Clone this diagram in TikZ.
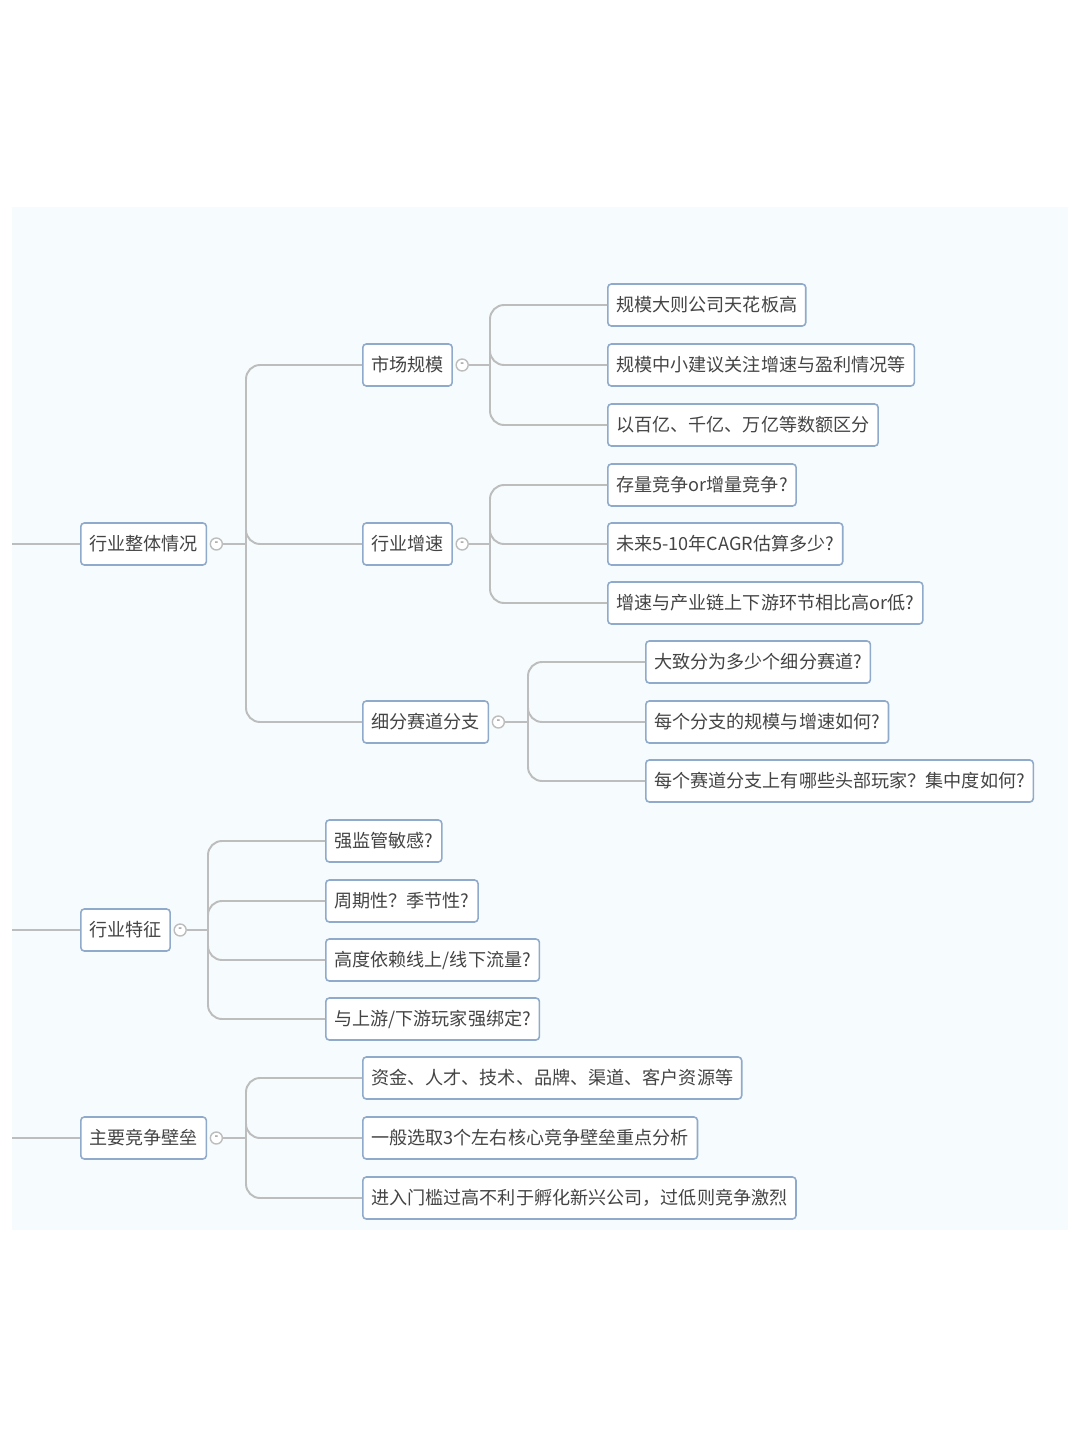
\documentclass[tikz,border=0pt]{standalone}
\usepackage{fontspec}
\setmainfont{Noto Sans CJK SC}
\begin{document}
\begin{tikzpicture}[x=0.02cm,y=-0.02cm,
  box/.style={draw=boxc,line width=0.9pt,fill=white,rounded corners=2pt,anchor=west,minimum height=0.84cm,inner xsep=0.17cm,font=\fontsize{10.3pt}{12pt}\selectfont,text=txt},
  conn/.style={draw=lc,line width=1.1pt,rounded corners=8pt},
  tog/.style={circle,draw=lc,fill=white,line width=0.8pt,inner sep=0pt,minimum size=0.24cm,font=\fontsize{6pt}{6pt}\selectfont,text=txt}]
\definecolor{boxc}{HTML}{8FAACB}
\definecolor{lc}{HTML}{BDBDBD}
\definecolor{txt}{HTML}{444444}
\definecolor{bgc}{HTML}{F6FBFD}
\useasboundingbox (0,0) rectangle (1080,1439);
\fill[bgc] (12,207) rectangle (1068,1230);
% connectors first (drawn under nodes) -- use coordinates
\coordinate (L1) at (12,544); \coordinate (L2) at (12,930); \coordinate (L3) at (12,1138);
\coordinate (T1) at (246,544); \coordinate (T11) at (490,365); \coordinate (T12) at (490,544); \coordinate (T13) at (528,722);
\coordinate (T2) at (208,930); \coordinate (T3) at (246,1138);
% nodes
\node[box] (r1) at (80,544) {行业整体情况};
\node[box] (a1) at (362,365) {市场规模};
\node[box] (a2) at (362,544) {行业增速};
\node[box] (a3) at (362,722) {细分赛道分支};
\node[box] (b1) at (607,305) {规模大则公司天花板高};
\node[box] (b2) at (607,365) {规模中小建议关注增速与盈利情况等};
\node[box] (b3) at (607,425) {以百亿、千亿、万亿等数额区分};
\node[box] (c1) at (607,485) {存量竞争or增量竞争?};
\node[box] (c2) at (607,544) {未来5-10年CAGR估算多少?};
\node[box] (c3) at (607,603) {增速与产业链上下游环节相比高or低?};
\node[box] (d1) at (645,662) {大致分为多少个细分赛道?};
\node[box] (d2) at (645,722) {每个分支的规模与增速如何?};
\node[box] (d3) at (645,781) {每个赛道分支上有哪些头部玩家？集中度如何?};
\node[box] (r2) at (80,930) {行业特征};
\node[box] (e1) at (325,841) {强监管敏感?};
\node[box] (e2) at (325,901) {周期性？季节性?};
\node[box] (e3) at (325,960) {高度依赖线上/线下流量?};
\node[box] (e4) at (325,1019) {与上游/下游玩家强绑定?};
\node[box] (r3) at (80,1138) {主要竞争壁垒};
\node[box] (f1) at (362,1078) {资金、人才、技术、品牌、渠道、客户资源等};
\node[box] (f2) at (362,1138) {一般选取3个左右核心竞争壁垒重点分析};
\node[box] (f3) at (362,1198) {进入门槛过高不利于孵化新兴公司，过低则竞争激烈};
% toggles
\foreach \n in {r1,a1,a2,a3,r2,r3} {\node[tog,anchor=west] (t\n) at ([xshift=0.05cm]\n.east) {-};}
% lines
\begin{scope}[on background layer/.style={}]
\end{scope}
\draw[conn] (L1) -- (r1.west); \draw[conn] (L2) -- (r2.west); \draw[conn] (L3) -- (r3.west);
\draw[conn] (tr1.east) -- (T1);
\foreach \c in {a1,a2,a3} \draw[conn] (T1) |- (\c.west);
\draw[conn] (ta1.east) -- (T11);
\foreach \c in {b1,b2,b3} \draw[conn] (T11) |- (\c.west);
\draw[conn] (ta2.east) -- (T12);
\foreach \c in {c1,c2,c3} \draw[conn] (T12) |- (\c.west);
\draw[conn] (ta3.east) -- (T13);
\foreach \c in {d1,d2,d3} \draw[conn] (T13) |- (\c.west);
\draw[conn] (tr2.east) -- (T2);
\foreach \c in {e1,e2,e3,e4} \draw[conn] (T2) |- (\c.west);
\draw[conn] (tr3.east) -- (T3);
\foreach \c in {f1,f2,f3} \draw[conn] (T3) |- (\c.west);
\end{tikzpicture}
\end{document}
